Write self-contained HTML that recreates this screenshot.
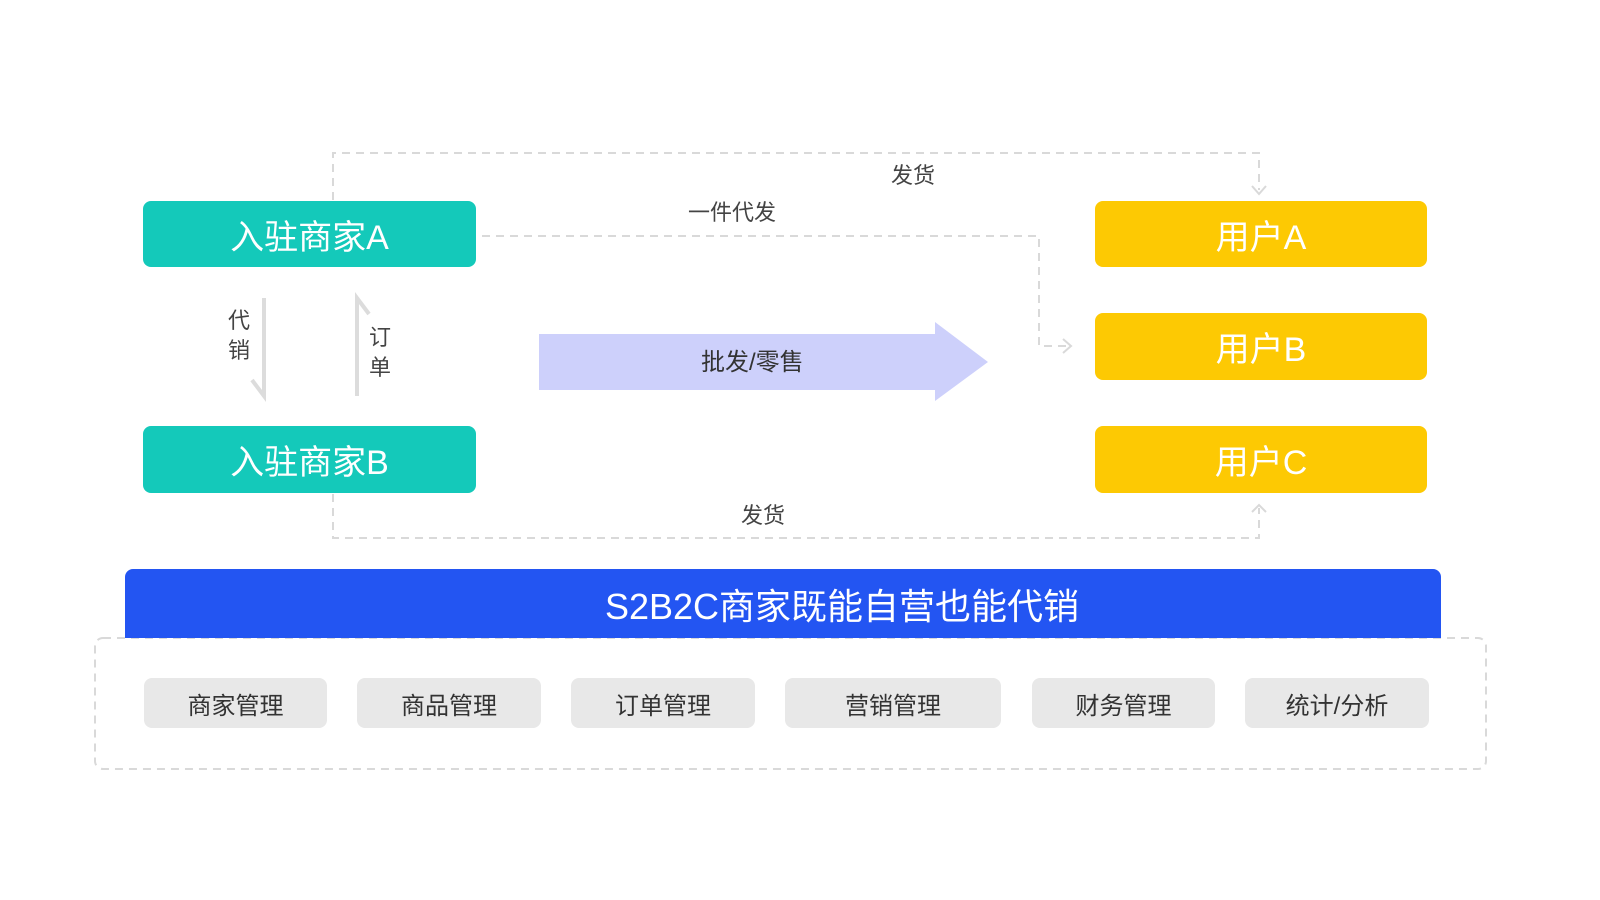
<!DOCTYPE html>
<html><head><meta charset="utf-8"><style>
body{margin:0;width:1600px;height:900px;background:#fff;position:relative;overflow:hidden;font-family:"Liberation Sans","Noto Sans CJK SC",sans-serif}
.b{position:absolute;border-radius:8px;color:#fff;font-size:34px;display:flex;align-items:center;justify-content:center}
.t{background:#14c9ba}.y{background:#fdc903}
.p{position:absolute;top:678px;height:50px;background:#e8e8e8;border-radius:8px;color:#333;font-size:24px;display:flex;align-items:center;justify-content:center}
.l{position:absolute;color:#444;font-size:22px;line-height:1}
</style></head><body>
<svg width="1600" height="900" style="position:absolute;left:0;top:0">
<g fill="none" stroke="#d9d9d9" stroke-width="2" stroke-dasharray="8,6">
<path d="M333 200 V153 H1259 V190"/>
<path d="M482 236 H1039 V346 H1068"/>
<path d="M333 494 V538 H1259 V508"/>
<rect x="95" y="638" width="1391" height="131" rx="8"/>
</g>
<g fill="none" stroke="#d9d9d9" stroke-width="2">
<path d="M1252 186 L1259 194 L1266 186"/>
<path d="M1063 339 L1071 346 L1063 353"/>
<path d="M1252 512 L1259 505 L1266 512"/>
</g>
<g fill="none" stroke="#dcdcdc" stroke-width="4">
<path d="M264 298 V396 L252 380"/>
<path d="M357 396 V298 L369 314"/>
</g>
<polygon points="539,334 935,334 935,322 988,362 935,401 935,390 539,390" fill="#cdd0fb"/>
</svg>
<div class="b t" style="left:143px;top:201px;width:333px;height:66px">入驻商家A</div>
<div class="b t" style="left:143px;top:426px;width:333px;height:67px">入驻商家B</div>
<div class="b y" style="left:1095px;top:201px;width:332px;height:66px">用户A</div>
<div class="b y" style="left:1095px;top:313px;width:332px;height:67px">用户B</div>
<div class="b y" style="left:1095px;top:426px;width:332px;height:67px">用户C</div>
<div class="l" style="left:891px;top:165px">发货</div>
<div class="l" style="left:688px;top:202px">一件代发</div>
<div class="l" style="left:741px;top:505px">发货</div>
<div class="l" style="left:228px;top:310px;width:24px">代<br><span style="display:block;margin-top:8px">销</span></div>
<div class="l" style="left:369px;top:327px;width:24px">订<br><span style="display:block;margin-top:8px">单</span></div>
<div class="l" style="left:701px;top:351px;color:#333;font-size:24px">批发/零售</div>
<div style="position:absolute;left:125px;top:569px;width:1316px;height:69px;background:#2355f2;border-radius:8px 8px 0 0;color:#fff;font-size:36px;display:flex;align-items:center;justify-content:center;padding-left:118px;box-sizing:border-box">S2B2C商家既能自营也能代销</div>
<div class="p" style="left:144px;width:183px">商家管理</div>
<div class="p" style="left:357px;width:184px">商品管理</div>
<div class="p" style="left:571px;width:184px">订单管理</div>
<div class="p" style="left:785px;width:216px">营销管理</div>
<div class="p" style="left:1032px;width:183px">财务管理</div>
<div class="p" style="left:1245px;width:184px">统计/分析</div>
</body></html>
